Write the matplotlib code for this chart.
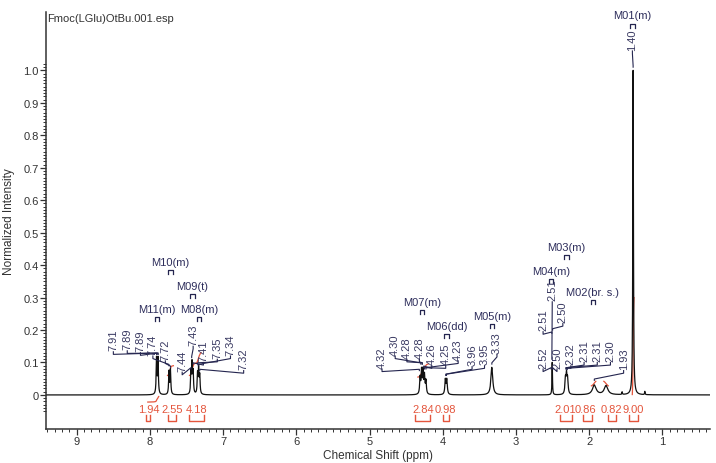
import numpy as np
import matplotlib
matplotlib.use("Agg")
import matplotlib.pyplot as plt
from matplotlib.ticker import FixedLocator, MultipleLocator

plt.rcParams['font.family'] = ['Liberation Sans', 'DejaVu Sans']

# spectrum lines: position (ppm), height, half width (ppm)
line_ppm = [7.91, 7.89, 7.74, 7.72, 7.44, 7.425, 7.41, 7.35, 7.335, 7.32,
            4.31, 4.29, 4.27, 4.25, 4.23, 3.965, 3.945, 3.33,
            2.505, 2.325, 2.31, 2.295, 1.93, 1.77, 1.55, 1.40, 1.24]
line_h = [0.11, 0.11, 0.07, 0.075, 0.065, 0.09, 0.065, 0.06, 0.075, 0.055,
          0.05, 0.07, 0.07, 0.055, 0.04, 0.045, 0.045, 0.085,
          0.10, 0.045, 0.055, 0.045, 0.03, 0.028, 0.008, 1.0, 0.01]
line_w = [0.006, 0.006, 0.006, 0.006, 0.006, 0.006, 0.006, 0.006, 0.006, 0.006,
          0.007, 0.007, 0.007, 0.007, 0.007, 0.008, 0.008, 0.015,
          0.004, 0.008, 0.008, 0.008, 0.03, 0.03, 0.004, 0.005, 0.004]

# peak picking labels
pk_text = ["7.91", "7.89", "7.89", "7.74", "7.72", "7.44", "7.43", "7.41", "7.35", "7.34", "7.32",
           "4.32", "4.30", "4.28", "4.28", "4.26", "4.25", "4.23", "3.96", "3.95", "3.33",
           "2.52", "2.51", "2.51", "2.50", "2.50", "2.32", "2.31", "2.31", "2.30", "1.93", "1.40"]
pk_lx = [8.50, 8.31, 8.13, 7.96, 7.79, 7.56, 7.41, 7.27, 7.08, 6.90, 6.72,
         4.83, 4.65, 4.49, 4.32, 4.15, 3.96, 3.79, 3.60, 3.43, 3.26,
         2.63, 2.63, 2.505, 2.44, 2.36, 2.25, 2.07, 1.89, 1.71, 1.53, 1.41]
pk_ly = [0.133, 0.136, 0.13, 0.12, 0.105, 0.07, 0.15, 0.10, 0.11, 0.12, 0.075,
         0.08, 0.12, 0.11, 0.11, 0.09, 0.09, 0.105, 0.087, 0.09, 0.125,
         0.08, 0.195, 0.287, 0.08, 0.22, 0.09, 0.10, 0.10, 0.10, 0.075, 1.06]
pk_px = [7.91, 7.89, 7.89, 7.74, 7.72, 7.44, 7.43, 7.41, 7.35, 7.34, 7.32,
         4.32, 4.30, 4.28, 4.28, 4.26, 4.25, 4.23, 3.96, 3.95, 3.33,
         2.52, 2.51, 2.51, 2.50, 2.50, 2.32, 2.31, 2.31, 2.30, 1.93, 1.40]
pk_end = [0.125, 0.125, 0.125, 0.09, 0.085, 0.08, 0.115, 0.095, 0.095, 0.09, 0.075,
          0.075, 0.095, 0.095, 0.095, 0.085, 0.08, 0.08, 0.06, 0.06, 0.095,
          0.08, 0.19, 0.11, 0.08, 0.20, 0.08, 0.08, 0.08, 0.078, 0.045, 1.01]

# multiplet labels
m_text = ["M01(m)", "M02(br. s.)", "M03(m)", "M04(m)", "M05(m)", "M06(dd)",
          "M07(m)", "M08(m)", "M09(t)", "M10(m)", "M11(m)"]
m_ppm = [1.41, 1.95, 2.31, 2.52, 3.33, 3.95, 4.28, 7.33, 7.42, 7.72, 7.90]
m_y = [1.17, 0.318, 0.457, 0.383, 0.244, 0.213, 0.287, 0.265, 0.336, 0.410, 0.265]

# integrals
int_text = ["1.94", "2.55", "4.18", "2.84", "0.98", "2.01", "0.86", "0.82", "9.00"]
int_tx = [8.02, 7.70, 7.36, 4.27, 3.97, 2.33, 2.05, 1.69, 1.40]
int_from = [8.06, 7.75, 7.46, 4.38, 4.00, 2.40, 2.08, 1.75, 1.45]
int_to = [8.00, 7.64, 7.26, 4.18, 3.91, 2.23, 1.96, 1.64, 1.34]

# integral curves: start, end, base, top
cur_from = [8.03, 7.76, 7.46, 4.34, 1.97, 1.80, 1.412]
cur_to = [7.88, 7.68, 7.30, 4.20, 1.91, 1.74, 1.388]
cur_base = [-0.022, 0.06, 0.06, 0.055, 0.028, 0.042, 0.0]
cur_top = [-0.005, 0.09, 0.13, 0.095, 0.042, 0.028, 0.30]

x = np.linspace(0.3, 9.5, 30000)
y = np.zeros_like(x)
for c, h, w in zip(line_ppm, line_h, line_w):
    y += h / (1 + ((x - c) / w) ** 2)

navy = '#24254f'
red = '#e4553c'
grey = '#333333'

fig = plt.figure(figsize=(7.16, 4.64), dpi=100)
ax = fig.add_axes([46 / 716, 1 - 430 / 464, 664 / 716, 417 / 464])
ax.set_xlim(9.42, 0.35)
ax.set_ylim(-0.105, 1.18)

# integral curves under the spectrum
for a, b, lo, hi in zip(cur_from, cur_to, cur_base, cur_top):
    m = (x <= a) & (x >= b)
    xs = x[m][::-1]
    ys = y[m][::-1]
    cs = np.cumsum(ys)
    cs = cs / cs[-1]
    ax.plot(xs, lo + (hi - lo) * cs, color=red, lw=0.9, zorder=1)

ax.plot(x, y, color='#111111', lw=0.9, zorder=2)

for t, lx, ly, px, pe in zip(pk_text, pk_lx, pk_ly, pk_px, pk_end):
    ax.text(lx, ly + 0.004, t, rotation=90, ha='center', va='bottom',
            fontsize=8, color='#3a3a62')
    ax.plot([lx, lx, px, px], [ly, ly - 0.008, pe + 0.004, pe],
            color=navy, lw=0.8, zorder=3)

for t, c, yy in zip(m_text, m_ppm, m_y):
    ax.text(c, yy, t, ha='center', va='center', fontsize=8, color='#2e2e5c',
            clip_on=False)
    yb = yy - 0.026
    ax.plot([c + 0.03, c + 0.03, c - 0.03, c - 0.03],
            [yb - 0.012, yb, yb, yb - 0.012], color=navy, lw=0.9, clip_on=False)

for t, tx, a, b in zip(int_text, int_tx, int_from, int_to):
    ax.text(tx, -0.043, t, ha='center', va='center', fontsize=8, color=red)
    ax.plot([a, a, b, b], [-0.062, -0.08, -0.08, -0.062], color=red, lw=1.0)

ax.text(9.41, 1.16, "Fmoc(LGlu)OtBu.001.esp", ha='left', va='center',
        fontsize=8, color=grey)

for s in ['top', 'right']:
    ax.spines[s].set_visible(False)
for s in ['left', 'bottom']:
    ax.spines[s].set_color(grey)
    ax.spines[s].set_linewidth(1.1)

ax.set_xticks(np.arange(1, 10))
ax.set_xticklabels([str(i) for i in range(1, 10)])
ax.xaxis.set_minor_locator(MultipleLocator(0.1))
yt = [round(0.1 * i, 1) for i in range(11)]
ax.set_yticks(yt)
ax.set_yticklabels(['0'] + ['%.1f' % v for v in yt[1:]])
ax.yaxis.set_minor_locator(FixedLocator([round(-0.05 + 0.01 * i, 2) for i in range(108)]))
ax.tick_params(axis='both', which='major', length=4.5, width=0.9, color=grey,
               labelsize=8, labelcolor=grey, pad=0.8)
ax.tick_params(axis='both', which='minor', length=2.5, width=0.7, color=grey)

ax.set_xlabel('Chemical Shift (ppm)', fontsize=8.5, color=grey)
ax.set_ylabel('Normalized Intensity', fontsize=8.5, color=grey)
ax.yaxis.set_label_coords(-0.046, 0.5)
ax.xaxis.set_label_coords(0.5, -0.047)

fig.savefig('out.png', dpi=100)
